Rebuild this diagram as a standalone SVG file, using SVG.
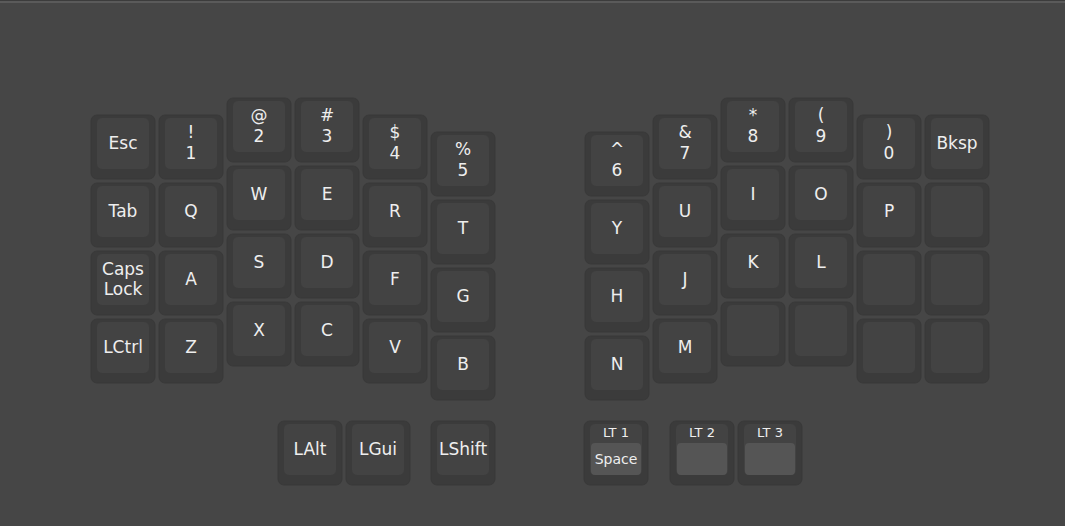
<svg xmlns="http://www.w3.org/2000/svg" width="1065" height="526" viewBox="0 0 1065 526">
<style>
.bg{fill:#464646}
.ko{fill:#3b3b3b;stroke:#393939;stroke-width:1}
.ki{fill:#434343}
.kh{fill:#555555}
text{font-family:"DejaVu Sans",sans-serif;fill:#eeeeee;text-anchor:middle}
.t{font-size:17px}
.s{font-size:13px}
.m{font-size:14px}
</style>
<defs>
<g id="cap">
<rect class="ko" x="-32" y="-28" width="64" height="64" rx="6"/>
<rect class="ki" x="-26" y="-25" width="52" height="51" rx="5"/>
</g>
</defs>
<rect class="bg" x="0" y="0" width="1065" height="526"/>
<rect x="0" y="0" width="1065" height="1" fill="#3c3c3c"/>
<rect x="0" y="1" width="1065" height="2" fill="#5a5a5a"/>
<g id="connectors"/>
<g id="left" transform="translate(1,0)">
<g id="k-esc" transform="translate(122,143)"><use href="#cap"/><text class="t" y="6">Esc</text></g>
<g id="k-1" transform="translate(190,143)"><use href="#cap"/><text class="t" y="-5">!</text><text class="t" y="16">1</text></g>
<g id="k-2" transform="translate(258,126)"><use href="#cap"/><text class="t" y="-5">@</text><text class="t" y="16">2</text></g>
<g id="k-3" transform="translate(326,126)"><use href="#cap"/><text class="t" y="-5">#</text><text class="t" y="16">3</text></g>
<g id="k-4" transform="translate(394,143)"><use href="#cap"/><text class="t" y="-5">$</text><text class="t" y="16">4</text></g>
<g id="k-5" transform="translate(462,160)"><use href="#cap"/><text class="t" y="-5">%</text><text class="t" y="16">5</text></g>
<g id="k-tab" transform="translate(122,211)"><use href="#cap"/><text class="t" y="6">Tab</text></g>
<g id="k-q" transform="translate(190,211)"><use href="#cap"/><text class="t" y="6">Q</text></g>
<g id="k-w" transform="translate(258,194)"><use href="#cap"/><text class="t" y="6">W</text></g>
<g id="k-e" transform="translate(326,194)"><use href="#cap"/><text class="t" y="6">E</text></g>
<g id="k-r" transform="translate(394,211)"><use href="#cap"/><text class="t" y="6">R</text></g>
<g id="k-t" transform="translate(462,228)"><use href="#cap"/><text class="t" y="6">T</text></g>
<g id="k-caps" transform="translate(122,279)"><use href="#cap"/><text class="t" y="-4">Caps</text><text class="t" y="16">Lock</text></g>
<g id="k-a" transform="translate(190,279)"><use href="#cap"/><text class="t" y="6">A</text></g>
<g id="k-s" transform="translate(258,262)"><use href="#cap"/><text class="t" y="6">S</text></g>
<g id="k-d" transform="translate(326,262)"><use href="#cap"/><text class="t" y="6">D</text></g>
<g id="k-f" transform="translate(394,279)"><use href="#cap"/><text class="t" y="6">F</text></g>
<g id="k-g" transform="translate(462,296)"><use href="#cap"/><text class="t" y="6">G</text></g>
<g id="k-lctrl" transform="translate(122,347)"><use href="#cap"/><text class="t" y="6">LCtrl</text></g>
<g id="k-z" transform="translate(190,347)"><use href="#cap"/><text class="t" y="6">Z</text></g>
<g id="k-x" transform="translate(258,330)"><use href="#cap"/><text class="t" y="6">X</text></g>
<g id="k-c" transform="translate(326,330)"><use href="#cap"/><text class="t" y="6">C</text></g>
<g id="k-v" transform="translate(394,347)"><use href="#cap"/><text class="t" y="6">V</text></g>
<g id="k-b" transform="translate(462,364)"><use href="#cap"/><text class="t" y="6">B</text></g>
<g id="k-lalt" transform="translate(309,449)"><use href="#cap"/><text class="t" y="6">LAlt</text></g>
<g id="k-lgui" transform="translate(377,449)"><use href="#cap"/><text class="t" y="6">LGui</text></g>
<g id="k-lshift" transform="translate(462,449)"><use href="#cap"/><text class="t" y="6">LShift</text></g>
</g>
<g id="right" transform="translate(1,0)">
<g id="k-6" transform="translate(616,160)"><use href="#cap"/><text class="t" y="-5">^</text><text class="t" y="16">6</text></g>
<g id="k-7" transform="translate(684,143)"><use href="#cap"/><text class="t" y="-5">&amp;</text><text class="t" y="16">7</text></g>
<g id="k-8" transform="translate(752,126)"><use href="#cap"/><text class="t" y="-5">*</text><text class="t" y="16">8</text></g>
<g id="k-9" transform="translate(820,126)"><use href="#cap"/><text class="t" y="-5">(</text><text class="t" y="16">9</text></g>
<g id="k-0" transform="translate(888,143)"><use href="#cap"/><text class="t" y="-5">)</text><text class="t" y="16">0</text></g>
<g id="k-bksp" transform="translate(956,143)"><use href="#cap"/><text class="t" y="6">Bksp</text></g>
<g id="k-y" transform="translate(616,228)"><use href="#cap"/><text class="t" y="6">Y</text></g>
<g id="k-u" transform="translate(684,211)"><use href="#cap"/><text class="t" y="6">U</text></g>
<g id="k-i" transform="translate(752,194)"><use href="#cap"/><text class="t" y="6">I</text></g>
<g id="k-o" transform="translate(820,194)"><use href="#cap"/><text class="t" y="6">O</text></g>
<g id="k-p" transform="translate(888,211)"><use href="#cap"/><text class="t" y="6">P</text></g>
<g id="k-r1c11" transform="translate(956,211)"><use href="#cap"/></g>
<g id="k-h" transform="translate(616,296)"><use href="#cap"/><text class="t" y="6">H</text></g>
<g id="k-j" transform="translate(684,279)"><use href="#cap"/><text class="t" y="6">J</text></g>
<g id="k-k" transform="translate(752,262)"><use href="#cap"/><text class="t" y="6">K</text></g>
<g id="k-l" transform="translate(820,262)"><use href="#cap"/><text class="t" y="6">L</text></g>
<g id="k-r2c10" transform="translate(888,279)"><use href="#cap"/></g>
<g id="k-r2c11" transform="translate(956,279)"><use href="#cap"/></g>
<g id="k-n" transform="translate(616,364)"><use href="#cap"/><text class="t" y="6">N</text></g>
<g id="k-m" transform="translate(684,347)"><use href="#cap"/><text class="t" y="6">M</text></g>
<g id="k-r3c8" transform="translate(752,330)"><use href="#cap"/></g>
<g id="k-r3c9" transform="translate(820,330)"><use href="#cap"/></g>
<g id="k-r3c10" transform="translate(888,347)"><use href="#cap"/></g>
<g id="k-r3c11" transform="translate(956,347)"><use href="#cap"/></g>
<g id="k-lt1" transform="translate(615,449)"><use href="#cap"/><rect class="kh" x="-25" y="-6" width="50" height="32" rx="4"/><text class="s" y="-12">LT 1</text><text class="m" y="15">Space</text></g>
<g id="k-lt2" transform="translate(701,449)"><use href="#cap"/><rect class="kh" x="-25" y="-6" width="50" height="32" rx="4"/><text class="s" y="-12">LT 2</text></g>
<g id="k-lt3" transform="translate(769,449)"><use href="#cap"/><rect class="kh" x="-25" y="-6" width="50" height="32" rx="4"/><text class="s" y="-12">LT 3</text></g>
</g>
</svg>
